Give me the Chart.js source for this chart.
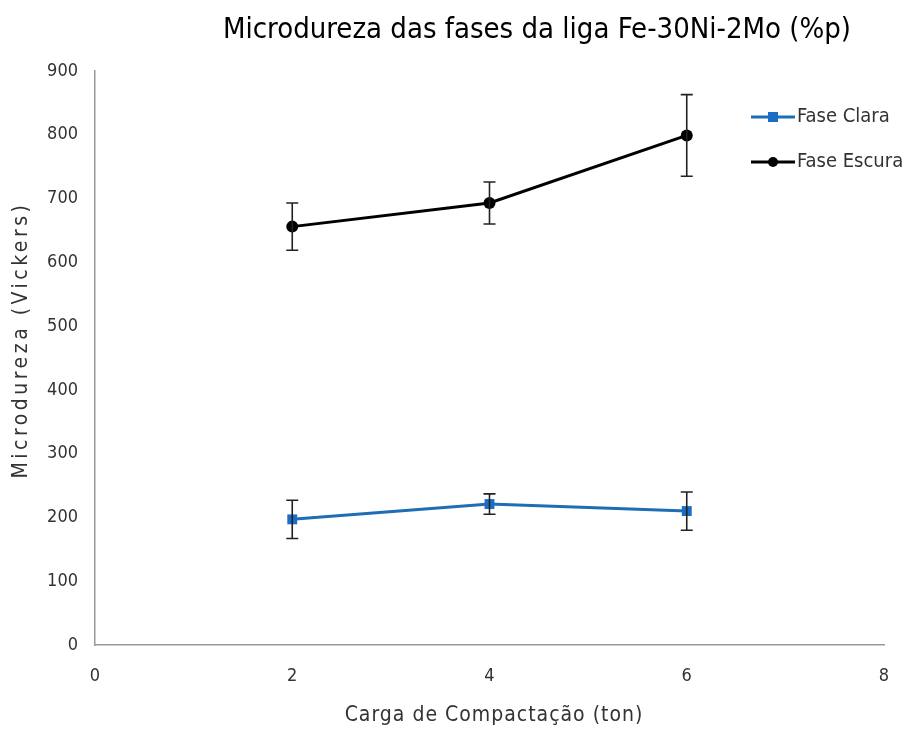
<!DOCTYPE html>
<html>
<head>
<meta charset="utf-8">
<script src="https://cdn.jsdelivr.net/npm/chart.js@4"></script>
<style>
html,body{margin:0;padding:0;background:#fff;}
#wrap{width:913px;height:733px;position:relative;}
</style>
</head>
<body>
<div id="wrap"><canvas id="c" width="913" height="733"></canvas></div>
<script>
const chartTitle = "Microdureza das fases da liga Fe-30Ni-2Mo (%p)";
const xTitle = "Carga de Compactação (ton)";
const yTitle = "Microdureza (Vickers)";
const cargas = [2, 4, 6];
const seriesNames = ["Fase Clara", "Fase Escura"];
const faseClara = [197, 221, 210];
const faseClaraErr = [30, 16, 30];
const faseEscura = [656, 693, 799];
const faseEscuraErr = [37, 33, 64];

const FONT = '"Liberation Sans Narrow", "DejaVu Sans Condensed", "Open Sans", sans-serif';

function pts(xs, ys, es) { return xs.map((x, i) => ({x: x, y: ys[i], e: es[i]})); }

const errorBars = {
  id: 'errorBars',
  afterDatasetsDraw(chart) {
    const ctx = chart.ctx;
    const xs = chart.scales.x, ys = chart.scales.y;
    ctx.save();
    ctx.strokeStyle = '#222';
    ctx.lineWidth = 1.6;
    chart.data.datasets.forEach(ds => {
      ds.data.forEach(p => {
        const px = xs.getPixelForValue(p.x);
        const top = ys.getPixelForValue(p.y + p.e);
        const bot = ys.getPixelForValue(p.y - p.e);
        ctx.beginPath();
        ctx.moveTo(px, top); ctx.lineTo(px, bot);
        ctx.moveTo(px - 6, top); ctx.lineTo(px + 6, top);
        ctx.moveTo(px - 6, bot); ctx.lineTo(px + 6, bot);
        ctx.stroke();
      });
    });
    ctx.restore();
  }
};

const texts = {
  id: 'texts',
  afterDraw(chart) {
    const ctx = chart.ctx;
    ctx.save();
    ctx.fillStyle = '#000';
    ctx.textAlign = 'center';
    ctx.textBaseline = 'middle';
    ctx.font = '29px ' + FONT;
    ctx.fillText(chartTitle, 537, 30);
    ctx.fillStyle = '#333';
    ctx.font = '21px ' + FONT;
    ctx.letterSpacing = '1px';
    ctx.fillText(xTitle, 494, 716);
    ctx.translate(22, 340);
    ctx.rotate(-Math.PI / 2);
    ctx.letterSpacing = '3.5px';
    ctx.fillText(yTitle, 0, 0);
    ctx.restore();

    // legend
    ctx.save();
    const items = [
      {y: 117, color: '#1F6DB5', fill: '#1A6FC4', style: 'rect', name: seriesNames[0]},
      {y: 162, color: '#000', fill: '#000', style: 'circle', name: seriesNames[1]}
    ];
    items.forEach(it => {
      ctx.strokeStyle = it.color;
      ctx.lineWidth = 3;
      ctx.beginPath(); ctx.moveTo(751, it.y); ctx.lineTo(795, it.y); ctx.stroke();
      ctx.fillStyle = it.fill;
      if (it.style === 'rect') { ctx.fillRect(768, it.y - 5, 10, 10); }
      else { ctx.beginPath(); ctx.arc(773, it.y, 5, 0, Math.PI * 2); ctx.fill(); }
      ctx.fillStyle = '#333';
      ctx.font = '20px ' + FONT;
      ctx.textAlign = 'left';
      ctx.textBaseline = 'middle';
      ctx.fillText(it.name, 797, it.y);
    });
    ctx.restore();
  }
};

new Chart(document.getElementById('c'), {
  type: 'line',
  data: {
    datasets: [
      {
        label: seriesNames[0],
        data: pts(cargas, faseClara, faseClaraErr),
        borderColor: '#1F6DB5',
        backgroundColor: '#1A6FC4',
        borderWidth: 3,
        pointStyle: 'rect',
        pointRadius: 7,
        pointBorderWidth: 0,
        tension: 0
      },
      {
        label: seriesNames[1],
        data: pts(cargas, faseEscura, faseEscuraErr),
        borderColor: '#000',
        backgroundColor: '#000',
        borderWidth: 3,
        pointStyle: 'circle',
        pointRadius: 6,
        pointBorderWidth: 0,
        tension: 0
      }
    ]
  },
  options: {
    responsive: false,
    animation: false,
    layout: {padding: {top: 71, right: 29, left: 0, bottom: 0}},
    plugins: {legend: {display: false}, title: {display: false}, tooltip: {enabled: false}},
    scales: {
      x: {
        type: 'linear', min: 0, max: 8,
        ticks: {stepSize: 2, color: '#333', font: {family: FONT, size: 18}, padding: 21},
        grid: {display: false, drawTicks: false},
        border: {display: true, color: '#999', width: 1.5},
        afterFit(s) { s.height = 88; }
      },
      y: {
        min: 0, max: 900,
        ticks: {stepSize: 100, color: '#333', font: {family: FONT, size: 18}, padding: 17},
        grid: {display: false, drawTicks: false},
        border: {display: true, color: '#999', width: 1.5},
        afterFit(s) { s.width = 95; }
      }
    }
  },
  plugins: [errorBars, texts]
});
</script>
</body>
</html>
